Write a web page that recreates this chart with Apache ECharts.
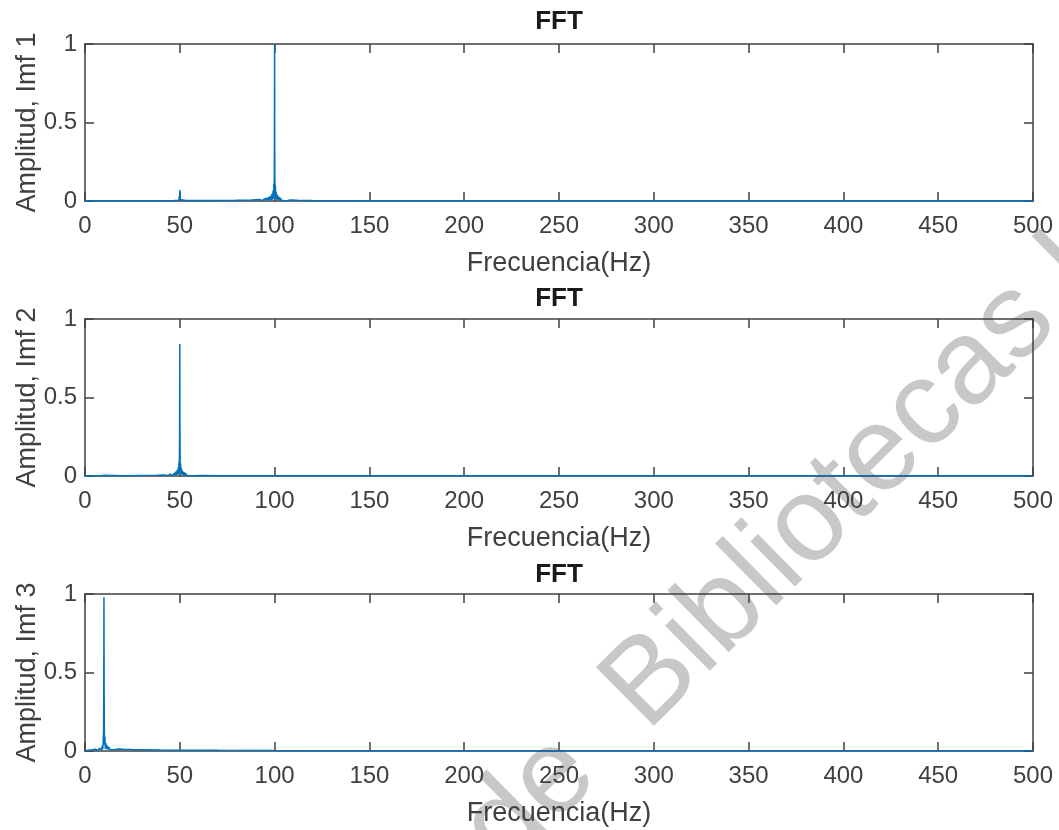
<!DOCTYPE html>
<html>
<head>
<meta charset="utf-8">
<script src="https://cdn.jsdelivr.net/npm/echarts@6/dist/echarts.min.js"></script>
<style>html,body{margin:0;padding:0;background:#fff;}#c{width:1059px;height:830px;}</style>
</head>
<body>
<div id="c"></div>
<script>
// ---- data (frequency Hz, normalized amplitude) ----
const xTicks = [0, 50, 100, 150, 200, 250, 300, 350, 400, 450, 500];
const yTicks = [0, 0.5, 1];
const titles = ['FFT', 'FFT', 'FFT'];
const yNames = ['Amplitud, Imf 1', 'Amplitud, Imf 2', 'Amplitud, Imf 3'];
const xName = 'Frecuencia(Hz)';

const imf1 = [[0,0.001],[10,0.001],[25,0.0015],[40,0.002],[47,0.003],[49.5,0.005],[49.8,0.015],[49.95,0.04],[50,0.07],[50.05,0.035],[50.2,0.01],[50.5,0.004],[53,0.003],[65,0.003],[80,0.004],[88,0.006],[92,0.01],[93.5,0.002],[94,0.014],[94.5,0.003],[95,0.017],[95.5,0.003],[96,0.021],[96.5,0.004],[97,0.026],[97.4,0.005],[97.8,0.033],[98.2,0.006],[98.6,0.045],[98.9,0.008],[99.2,0.065],[99.4,0.012],[99.6,0.11],[99.75,0.03],[99.85,0.15],[99.93,0.4],[100,1.0],[100.07,0.35],[100.15,0.15],[100.25,0.03],[100.4,0.1],[100.6,0.012],[100.8,0.06],[101.1,0.008],[101.4,0.04],[101.8,0.006],[102.2,0.028],[102.6,0.005],[103,0.021],[103.6,0.004],[104.2,0.015],[105,0.003],[106,0.011],[106.8,0.002],[108,0.007],[112,0.004],[120,0.003],[140,0.002],[200,0.0015],[300,0.001],[400,0.001],[500,0.001]];

const imf2 = [[0,0.001],[8,0.002],[9.6,0.004],[9.9,0.01],[10,0.016],[10.1,0.008],[10.4,0.003],[20,0.002],[29.8,0.003],[30,0.006],[30.2,0.003],[38,0.004],[42,0.007],[43.5,0.002],[44,0.01],[44.5,0.002],[45,0.012],[45.5,0.003],[46,0.015],[46.5,0.003],[47,0.019],[47.4,0.004],[47.8,0.027],[48.2,0.006],[48.6,0.037],[48.9,0.008],[49.2,0.055],[49.4,0.012],[49.6,0.09],[49.75,0.03],[49.85,0.2],[49.93,0.45],[50,0.84],[50.07,0.3],[50.15,0.13],[50.25,0.03],[50.4,0.08],[50.6,0.012],[50.8,0.05],[51.1,0.008],[51.4,0.034],[51.8,0.006],[52.2,0.024],[52.6,0.005],[53,0.018],[53.6,0.004],[54.2,0.013],[55,0.003],[56,0.009],[57,0.002],[58,0.006],[62,0.003],[70,0.002],[100,0.0015],[200,0.001],[500,0.001]];

const imf3 = [[0,0.002],[2,0.005],[4,0.008],[5.5,0.011],[6.5,0.014],[7,0.004],[7.5,0.018],[8,0.006],[8.4,0.024],[8.8,0.008],[9.1,0.035],[9.4,0.012],[9.6,0.06],[9.8,0.13],[9.9,0.4],[10,0.98],[10.1,0.35],[10.2,0.13],[10.3,0.04],[10.5,0.09],[10.7,0.015],[11,0.05],[11.3,0.012],[11.7,0.035],[12.1,0.01],[12.6,0.025],[13.2,0.009],[14,0.02],[15,0.008],[16,0.015],[18,0.013],[20,0.011],[25,0.009],[30,0.008],[40,0.006],[50,0.005],[70,0.004],[100,0.003],[150,0.002],[250,0.0015],[500,0.001]];

const seriesData = [imf1, imf2, imf3];
const watermark = ['de', 'Bibliotecas U'];

// ---- layout ----
const FONT = '"Liberation Sans", Arial, Helvetica, sans-serif';
const AX = '#404040';
const gridTops = [44, 319, 594];
const gridH = 157;
const gridLeft = 85, gridW = 948;
const titleCenters = [20, 297, 573];

const grids = [], xAxes = [], yAxes = [], series = [], titleOpts = [];
for (let i = 0; i < 3; i++) {
  grids.push({left: gridLeft, top: gridTops[i], width: gridW, height: gridH, containLabel: false});
  const xBase = {
    type: 'value', gridIndex: i, min: xTicks[0], max: xTicks[xTicks.length-1], interval: xTicks[1]-xTicks[0],
    splitLine: {show: false},
    axisLine: {show: true, onZero: false, lineStyle: {color: AX, width: 1.5}},
    axisTick: {show: true, inside: true, length: 9, lineStyle: {color: AX, width: 1.5}}
  };
  xAxes.push(Object.assign({}, xBase, {
    position: 'bottom',
    axisLabel: {show: true, margin: 13, color: AX, fontSize: 24, fontFamily: FONT},
    name: xName, nameLocation: 'middle', nameGap: 49, nameMoveOverlap: false,
    nameTextStyle: {color: AX, fontSize: 27, fontFamily: FONT}
  }));
  xAxes.push(Object.assign({}, xBase, {position: 'top', axisLabel: {show: false}}));
  const yBase = {
    type: 'value', gridIndex: i, min: 0, max: 1, interval: 0.5,
    splitLine: {show: false},
    axisLine: {show: true, onZero: false, lineStyle: {color: AX, width: 1.5}},
    axisTick: {show: true, inside: true, length: 9, lineStyle: {color: AX, width: 1.5}}
  };
  yAxes.push(Object.assign({}, yBase, {
    position: 'left',
    axisLabel: {show: true, margin: 8, color: AX, fontSize: 24, fontFamily: FONT,
      formatter: v => String(v)},
    name: yNames[i], nameLocation: 'middle', nameGap: 44, nameMoveOverlap: false,
    nameTextStyle: {color: AX, fontSize: 27, fontFamily: FONT}
  }));
  yAxes.push(Object.assign({}, yBase, {position: 'right', axisLabel: {show: false}}));
  series.push({
    type: 'line', xAxisIndex: 2*i, yAxisIndex: 2*i, data: seriesData[i],
    showSymbol: false, symbol: 'none', sampling: null, animation: false,
    lineStyle: {color: '#0072BD', width: 1.5}, z: 3
  });
  titleOpts.push({
    text: titles[i], left: gridLeft + gridW/2, top: titleCenters[i] - 11, textAlign: 'center', padding: 0,
    textStyle: {color: '#1a1a1a', fontSize: 26, fontWeight: 'bold', fontFamily: FONT}
  });
}

const chart = echarts.init(document.getElementById('c'), null, {renderer: 'canvas'});
chart.setOption({
  backgroundColor: '#fff',
  animation: false,
  title: titleOpts,
  grid: grids,
  xAxis: xAxes,
  yAxis: yAxes,
  series: series,
  graphic: [{
    type: 'group', x: 666, y: 752, rotation: 0.78, z: -10, silent: true,
    children: [
      {type: 'text', z: -10, style: {x: 0, y: 0, text: watermark[1], textAlign: 'left', textVerticalAlign: 'bottom',
        font: '120px ' + FONT, fill: '#c8c8c8'}},
      {type: 'text', z: -10, style: {x: -65, y: 0, text: watermark[0], textAlign: 'right', textVerticalAlign: 'bottom',
        font: '120px ' + FONT, fill: '#c8c8c8'}}
    ]
  }]
});
</script>
</body>
</html>
